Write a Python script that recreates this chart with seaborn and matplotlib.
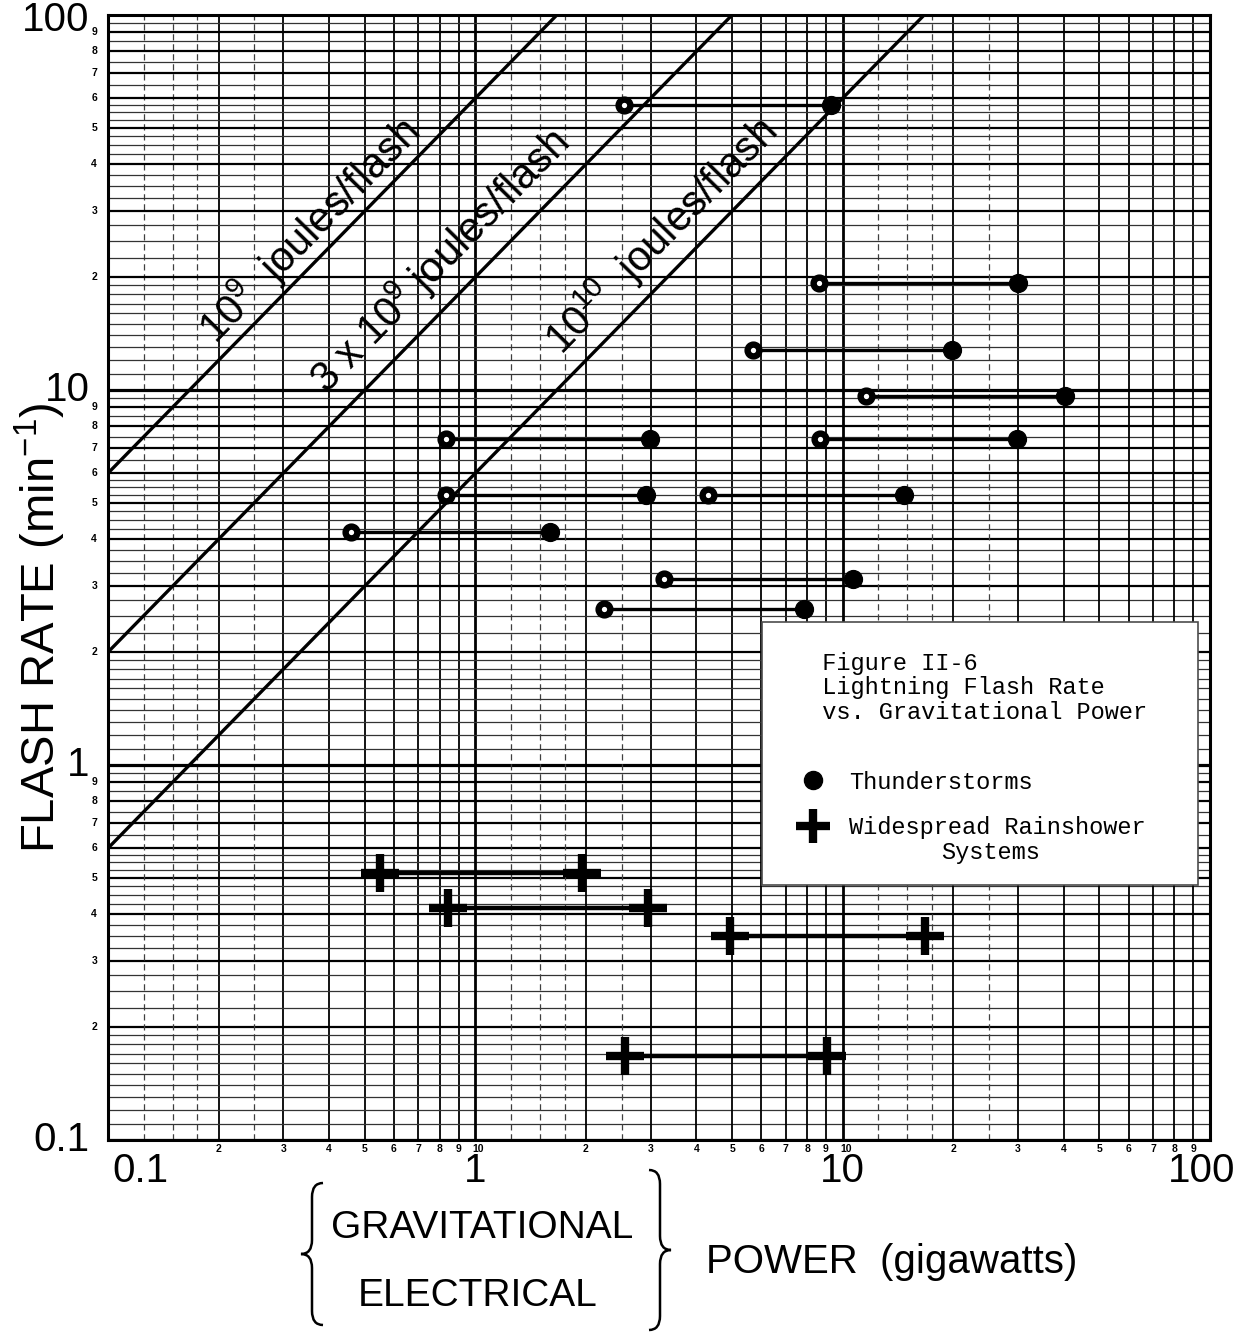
import numpy as np
import pandas as pd
import matplotlib
matplotlib.use("Agg")
import matplotlib.pyplot as plt
import seaborn as sns
from matplotlib.lines import Line2D
from matplotlib.path import Path
from matplotlib.patches import PathPatch, Rectangle
from matplotlib import font_manager
import matplotlib.transforms as mtransforms

# ---------------- data ----------------
thunder_low_gw = [2.54, 8.6, 5.7, 11.6, 0.83, 8.7, 0.83, 4.3, 0.46, 3.27, 2.24]
thunder_high_gw = [9.27, 30.0, 19.8, 40.3, 2.98, 29.8, 2.92, 14.7, 1.60, 10.7, 7.87]
thunder_rate = [57.4, 19.3, 12.8, 9.64, 7.4, 7.4, 5.24, 5.24, 4.17, 3.14, 2.6]

rain_low_gw = [0.55, 0.84, 4.93, 2.56]
rain_high_gw = [1.95, 2.96, 16.8, 9.04]
rain_rate = [0.514, 0.415, 0.351, 0.168]

# constant-energy reference lines (end points)
energy_names = ["1e9", "3e9", "1e10"]
energy_power_start = [0.1, 0.1, 0.1]
energy_power_end = [1.667, 5.0, 16.67]
energy_rate_start = [6.0, 2.0, 0.6]
energy_rate_end = [100.0, 100.0, 100.0]
energy_labels = [r"$10^{9}$  joules/flash", r"3 x $10^{9}$ joules/flash", r"$10^{10}$  joules/flash"]
energy_label_power = [0.353, 0.80, 3.21]
energy_label_rate = [26.6, 22.1, 25.8]

decade_values = [0.1, 1, 10, 100]
decade_labels = ["0.1", "1", "10", "100"]
minor_digits = ["2", "3", "4", "5", "6", "7", "8", "9"]

legend_title = "  Figure II-6\n  Lightning Flash Rate\n  vs. Gravitational Power\n"
legend_labels = ["Thunderstorms", "Widespread Rainshower"]
legend_label_cont = "Systems"

# ---------------- style ----------------
sns.set_theme(style="white")
names = {f.name for f in font_manager.fontManager.ttflist}
NARROW = "Liberation Sans Narrow" in names
SANS = "Liberation Sans"
NARROW_FAM = "Liberation Sans Narrow" if NARROW else SANS
MONO = "Liberation Mono"
plt.rcParams["font.family"] = [SANS, "DejaVu Sans"]
plt.rcParams["text.color"] = "black"
plt.rcParams["mathtext.fontset"] = "custom"
plt.rcParams["mathtext.rm"] = SANS
plt.rcParams["mathtext.it"] = SANS
plt.rcParams["mathtext.bf"] = SANS

W, H = 1257, 1332
fig = plt.figure(figsize=(W / 100, H / 100), dpi=100)
fig.patch.set_facecolor("white")
L, R, T, B = 108, 1210, 15, 1140
ax = fig.add_axes([L / W, 1 - B / H, (R - L) / W, (B - T) / H])
ax.set_xscale("log")
ax.set_yscale("log")
ax.set_xlim(0.1, 100)
ax.set_ylim(0.1, 100)
ax.set_facecolor("white")
ax.tick_params(which="both", length=0, labelbottom=False, labelleft=False)
for s in ax.spines.values():
    s.set_color("black")
    s.set_linewidth(2.2)

# ---------------- graph-paper grid ----------------
for d in [0.1, 1, 10]:
    for k in range(1, 10):
        v = k * d
        lw = 2.0 if k == 1 else 1.3
        ax.axvline(v, color="black", lw=lw, zorder=1)
        ax.axhline(v, color="black", lw=lw + 0.3, zorder=1)
    for f in [1.25, 1.5, 1.75, 2.5]:
        ax.axvline(f * d, color="0.25", lw=0.9, ls=(0, (5, 3)), zorder=1)
    hmin = list(np.arange(1.1, 1.95, 0.1)) + [2.25, 2.5, 2.75, 3.25, 3.5, 3.75,
                                              4.25, 4.5, 4.75, 5.25, 5.5, 5.75,
                                              6.5, 7.5, 8.5, 9.5]
    for f in hmin:
        ax.axhline(f * d, color="0.2", lw=0.9, zorder=1)

# ---------------- energy lines ----------------
eng = pd.DataFrame({
    "line": np.repeat(energy_names, 2),
    "power": np.ravel(np.column_stack([energy_power_start, energy_power_end])),
    "rate": np.ravel(np.column_stack([energy_rate_start, energy_rate_end])),
})
sns.lineplot(data=eng, x="power", y="rate", units="line", estimator=None,
             color="black", lw=2.4, sort=False, ax=ax, zorder=3)

for lab, px, ry, ps, pe, rs, re in zip(energy_labels, energy_label_power, energy_label_rate,
                                       energy_power_start, energy_power_end,
                                       energy_rate_start, energy_rate_end):
    p0 = ax.transData.transform((ps, rs))
    p1 = ax.transData.transform((pe, re))
    ang = np.degrees(np.arctan2(p1[1] - p0[1], p1[0] - p0[0]))
    ax.text(px, ry, lab, rotation=ang, rotation_mode="anchor", ha="center", va="center",
            fontsize=30, family=SANS, color="black", zorder=4)

# ---------------- data segments ----------------
n_t = len(thunder_rate)
t_df = pd.DataFrame({
    "pair": np.repeat(np.arange(n_t), 2),
    "power": np.ravel(np.column_stack([thunder_low_gw, thunder_high_gw])),
    "rate": np.repeat(thunder_rate, 2),
})
sns.lineplot(data=t_df, x="power", y="rate", units="pair", estimator=None,
             color="black", lw=2.4, sort=False, ax=ax, zorder=5)
sns.scatterplot(x=thunder_high_gw, y=thunder_rate, marker="o", s=165, color="black",
                edgecolor="black", linewidth=1, ax=ax, zorder=6)
sns.scatterplot(x=thunder_low_gw, y=thunder_rate, marker="o", s=72, color="white",
                edgecolor="black", linewidth=4.6, ax=ax, zorder=6)

n_r = len(rain_rate)
r_df = pd.DataFrame({
    "pair": np.repeat(np.arange(n_r), 2),
    "power": np.ravel(np.column_stack([rain_low_gw, rain_high_gw])),
    "rate": np.repeat(rain_rate, 2),
})
sns.lineplot(data=r_df, x="power", y="rate", units="pair", estimator=None,
             color="black", lw=3.2, sort=False, ax=ax, zorder=5)
for xs in (rain_low_gw, rain_high_gw):
    ax.scatter(xs, rain_rate, marker="+", s=750, c="black", linewidths=6, zorder=6)

# ---------------- legend / caption box ----------------
def ax_frac(px, py):
    return (px - L) / (R - L), 1 - (py - T) / (B - T)

bx0, by0 = ax_frac(762, 885)
bx1, by1 = ax_frac(1198, 622)
ax.add_patch(Rectangle((bx0, by0), bx1 - bx0, by1 - by0, transform=ax.transAxes,
                       facecolor="white", edgecolor="0.3", lw=1.2, zorder=9))

handles = [
    Line2D([], [], ls="none", marker="o", ms=13, color="black"),
    Line2D([], [], ls="none", marker="+", ms=24, mew=6, color="black"),
]
anc = ax_frac(794, 652)
leg = ax.legend(handles, legend_labels, title=legend_title, loc="upper left",
                bbox_to_anchor=anc, alignment="left", frameon=False,
                borderpad=0, labelspacing=0.95, handlelength=1.6, handletextpad=0.75,
                borderaxespad=0,
                prop={"family": MONO, "size": 17},
                title_fontproperties={"family": MONO, "size": 17})
leg.set_zorder(10)
leg.get_title().set_linespacing(1.08)
cx, cy = ax_frac(991, 852)
ax.text(cx, cy, legend_label_cont, transform=ax.transAxes, ha="center", va="center",
        family=MONO, fontsize=17, zorder=11)

# ---------------- tick labels ----------------
bx = mtransforms.blended_transform_factory(ax.transData, ax.transAxes)
by = mtransforms.blended_transform_factory(ax.transAxes, ax.transData)
big = 29
x_off = [(140 - L), 0, 0, -8]
for v, lab, off in zip(decade_values, decade_labels, x_off):
    ax.text(v, -(1182 - B) / (B - T), lab,
            transform=bx + mtransforms.ScaledTranslation(off / 100, 0, fig.dpi_scale_trans),
            ha="center", va="baseline", fontsize=big, family=SANS)
y_off = [0, 0, 0, -5]
for v, lab, off in zip(decade_values, decade_labels, y_off):
    ax.text(-0.0165, v, lab,
            transform=by + mtransforms.ScaledTranslation(0, off / 100, fig.dpi_scale_trans),
            ha="right", va="center", fontsize=big, family=SANS)
ysmall = -(1149 - B) / (B - T)
for d in [0.1, 1, 10]:
    for k, dig in zip(range(2, 10), minor_digits):
        ax.text(k * d, ysmall, dig, transform=bx, ha="center", va="center",
                fontsize=7.5, fontweight="bold", family=SANS)
        ax.text(-0.0125, k * d, dig, transform=by, ha="center", va="center",
                fontsize=7.5, fontweight="bold", family=SANS)
for v in [1, 10]:
    ax.text(v, ysmall, "10",
            transform=bx + mtransforms.ScaledTranslation(3 / 100, 0, fig.dpi_scale_trans),
            ha="center", va="center", fontsize=7.5, fontweight="bold", family=SANS)

# ---------------- axis titles ----------------
fig.text(40 / W, 1 - 628 / H, r"FLASH RATE (min$^{-1}$)", rotation=90, ha="center", va="center",
         fontsize=34 if not NARROW else 38, family=NARROW_FAM)
fig.text(482 / W, 1 - 1228 / H, "GRAVITATIONAL", ha="center", va="center",
         fontsize=28 if not NARROW else 32, family=NARROW_FAM)
fig.text(478 / W, 1 - 1296 / H, "ELECTRICAL", ha="center", va="center",
         fontsize=28 if not NARROW else 32, family=NARROW_FAM)
fig.text(892 / W, 1 - 1262 / H, "POWER  (gigawatts)", ha="center", va="center",
         fontsize=29 if not NARROW else 33, family=NARROW_FAM)


def brace(xc, ytop, ybot, w, direction):
    """Curly brace in pixel coords (y downward); direction -1 tip left, +1 tip right."""
    ym = (ytop + ybot) / 2
    h = 14
    e = -direction * w
    t = direction * w
    pts = [(xc + e, ytop), (xc, ytop), (xc, ytop + h),
           (xc, ym - h), (xc, ym), (xc + t, ym),
           (xc, ym), (xc, ym + h),
           (xc, ybot - h), (xc, ybot), (xc + e, ybot)]
    codes = [Path.MOVETO, Path.CURVE3, Path.CURVE3,
             Path.LINETO, Path.CURVE3, Path.CURVE3,
             Path.CURVE3, Path.CURVE3,
             Path.LINETO, Path.CURVE3, Path.CURVE3]
    pts = [(x / W, 1 - y / H) for x, y in pts]
    patch = PathPatch(Path(pts, codes), transform=fig.transFigure, fill=False,
                      lw=1.8, edgecolor="black")
    fig.add_artist(patch)


brace(312, 1183, 1325, 11, -1)
brace(660, 1170, 1330, 11, 1)

fig.savefig("out.png", dpi=100, facecolor="white")
